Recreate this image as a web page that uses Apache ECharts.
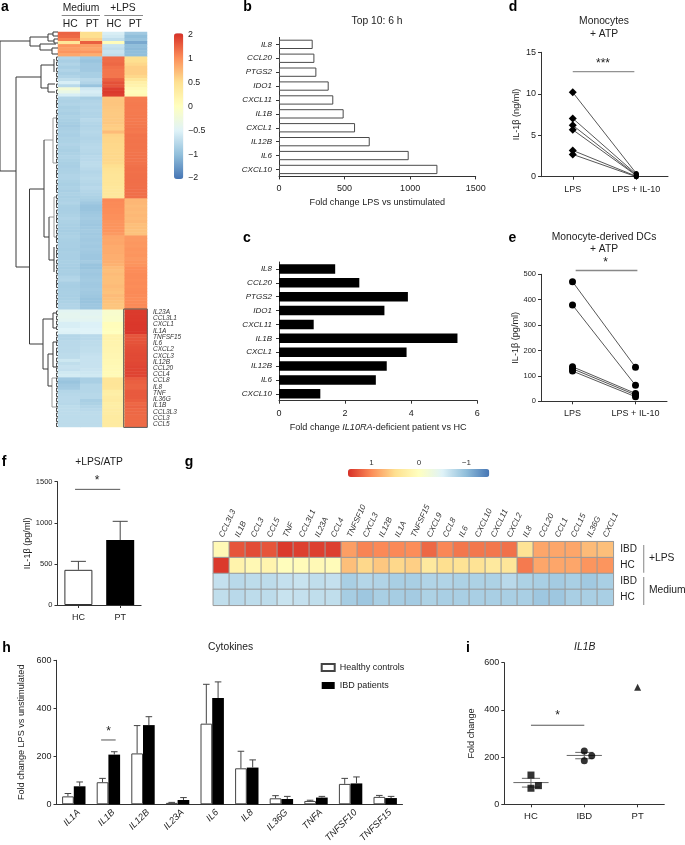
<!DOCTYPE html>
<html><head><meta charset="utf-8">
<style>html,body{margin:0;padding:0;background:#fff}#c{width:685px;height:845px}</style>
<script src="https://cdn.jsdelivr.net/npm/echarts@6/dist/echarts.min.js"></script>
</head><body><div id="c"></div>
<script>
// ---------- panel a: clustered heat map (columns, rows top to bottom)
const heatColumnsA = ['Medium HC','Medium PT','+LPS HC','+LPS PT'];
const heatMediumHC = [1.45,1.4,1.15,.4,.95,.9,.95,.85,
 -.8,-.85,-.8,-.85,-.8,-.85,-.8,-.7,-.55,-.75,-.2,-.35,-.55,
 -.8,-.82,-.8,-.84,-.82,-.85,-.82,-.84,-.86,-.88,-.85,-.83,-.85,-.82,-.82,-.8,-.82,-.84,-.82,-.8,-.82,-.84,-.85,-.83,-.82,-.8,-.8,-.82,-.84,-.82,-.85,-.82,-.84,
 -.82,-.8,-.84,-.85,-.84,-.82,-.8,-.82,-.84,-.85,-.86,-.84,-.82,-.84,-.85,-.85,-.86,-.84,-.85,-.85,-.84,-.85,-.86,-.84,-.85,-.8,-.78,-.85,-.86,-.85,-.84,-.85,-.84,-.82,-.8,-.8,
 -.45,-.42,-.42,-.45,-.55,-.55,-.5,-.52,-.78,-.78,-.75,-.75,-.74,-.74,-.72,-.72,-.62,-.7,-.66,-.68,-.6,-.58,-.9,-.95,-.9,-.88,-.78,-.76,-.75,-.75,-.76,-.72,-.72,-.72,-.72,-.72,-.72,-.72];
const heatMediumPT = [.5,.5,.6,1.5,.9,.85,.95,.8,
 -.9,-.95,-.9,-.9,-.9,-.85,-.85,-.75,-.8,-.95,-.6,-.55,-.6,
 -.85,-.8,-.78,-.8,-.78,-.8,-.8,-.75,-.78,-.8,-.78,-.76,-.78,-.8,-.78,-.76,-.75,-.76,-.78,-.75,-.75,-.72,-.72,-.75,-.78,-.76,-.74,-.76,-.78,-.75,-.78,-.8,-.82,
 -.85,-.9,-.95,-.95,-.92,-.9,-.88,-.9,-.92,-.9,-.88,-.9,-.88,-.9,-.88,-.9,-.88,-.9,-.92,-.92,-.88,-.95,-.95,-.9,-.92,-.9,-.88,-.9,-.9,-.88,-.9,-.92,-.95,-.95,-.92,-.92,
 -.45,-.45,-.42,-.45,-.52,-.52,-.5,-.5,-.75,-.75,-.72,-.72,-.7,-.7,-.68,-.66,-.66,-.66,-.66,-.64,-.62,-.6,-.85,-.85,-.78,-.78,-.78,-.76,-.76,-.85,-.82,-.78,-.75,-.72,-.72,-.72,-.72,-.72];
const heatLpsHC = [-.55,-.6,-.7,.05,-.65,-.7,-.65,-.7,
 1.35,1.35,1.4,1.3,1.25,1.25,1.25,1.5,1.65,1.6,1.85,1.9,1.85,
 .65,.66,.66,.65,.64,.63,.64,.64,.65,.62,.6,.72,.58,.56,.56,.55,.55,.54,.55,.54,.55,.54,.5,.45,.44,.42,.42,.4,.4,.38,.38,.38,.38,
 1.05,1.02,1.02,1.0,1.0,.98,.98,.96,.96,.95,.95,.92,.85,.84,.85,.82,.82,.82,.8,.8,.8,.78,.72,.7,.72,.7,.7,.7,.72,.7,.68,.72,.7,.68,.66,.66,
 -.12,-.12,-.1,-.1,.04,.04,.02,0,.2,.2,.18,.18,.16,.16,.14,.14,.12,.12,.1,.1,.08,.08,.42,.42,.42,.4,.28,.26,.3,.32,.28,.28,.3,.3,.32,.32,.32,.32];
const heatLpsPT = [-.9,-1,-.95,-1.3,-1,-1.05,-1,-1,
 .5,.5,.55,.6,.6,.6,.55,.4,.25,.2,.1,.05,.1,
 1.18,1.18,1.2,1.2,1.19,1.2,1.22,1.2,1.22,1.23,1.25,1.22,1.28,1.26,1.28,1.27,1.28,1.26,1.27,1.28,1.27,1.28,1.3,1.32,1.3,1.32,1.32,1.33,1.32,1.33,1.33,1.32,1.33,
 .75,.75,.72,.74,.72,.74,.72,.74,.7,.7,.68,.68,.92,.92,.94,.93,.95,.94,.95,.93,.95,.96,1,1,1.02,1.02,1,1.02,1,1.02,1.03,1.02,1,1.02,1.03,1.03,
 1.88,1.88,1.9,1.9,1.92,1.92,1.92,1.92,1.6,1.6,1.62,1.65,1.68,1.7,1.72,1.72,1.72,1.75,1.78,1.78,1.78,1.78,1.55,1.5,1.45,1.45,1.55,1.55,1.55,1.5,1.4,1.45,1.4,1.4,1.38,1.38,1.38,1.38];
const heatGenesA = ['IL23A','CCL3L1','CXCL1','IL1A','TNFSF15','IL6','CXCL2','CXCL3','IL12B','CCL20','CCL4','CCL8','IL8','TNF','IL36G','IL1B','CCL3L3','CCL3','CCL5'];
const scaleTicksA = ['−2','−1','−0.5','0','0.5','1','2'];
const scaleValuesA = [-2,-1,-.5,0,.5,1,2];
const scaleValuesG = [-1.5,-1,-.5,0,.5,1,1.5];
const scaleTicksG = ['','1','','0','','−1',''];
const paletteRdYlBu = ['#4575b4','#91bfdb','#e0f3f8','#ffffbf','#fee090','#fc8d59','#d73027'];

// dendrogram of panel a: [height1, leafPos1, height2, leafPos2]
const dendroDark = [[58,9,58,139],[28,9,58,9],[42,139,58,139],[28,5,28,14],[10,5,28,5],[18,14,28,14],
 [10,2,10,9],[5,2,10,2],[4,9,10,9],[18,12,18,18],[2,12,18,12],[6,18,18,18],[6,16,6,22],[0,16,6,16],[0,22,6,22],[5,0,5,4],[0,0,5,0],[0,4,5,4],[4,7,4,11],[0,7,4,7],[0,11,4,11],
 [42,45,42,235],[17,45,42,45],[17,33,17,56],[4,33,17,33],[4,27,4,40],[10,56,17,56],[10,52,10,60],[3,52,10,52],[3,60,10,60],
 [28.5,235,42,235],[28.5,157,28.5,312],[14,157,28.5,157],[14,108,14,205],[9,205,14,205],[9,185,9,228],[4,228,9,228],[4,215,4,240],
 [15,312,28.5,312],[15,287,15,337],[5,287,15,287],[5,281,5,296],[2,281,5,281],[2,296,5,296],[10,337,15,337],[10,322,10,354],[5,322,10,322],[5,310,5,335],[1,310,5,310],[1,335,5,335],[6,354,10,354]];
const dendroGray = [[5,108,14,108],[5,86,5,131],[1,86,5,86],[1,131,5,131],[4,185,9,185],[4,165,4,205],[1,165,4,165],[1,205,4,205],[6,346,6,375],[1,346,6,346],[1,375,6,375]];
const dendroLeafPairs = [25,30,36,41,46,52,58,63,68,72,78,83,87,92,98,103,107,113,118,122,127,133,138,142,148,153,157,163,168,172,178,183,187,193,198,203,207,213,218,222,228,233,238,243,248,252,258,263,268,272,279,284,289,294,300,305,310,316,320,326,331,336,341,346,351,356,361,366,371,376,381,386,391];

// ---------- panels b, c
const topGenes = ['IL8','CCL20','PTGS2','IDO1','CXCL11','IL1B','CXCL1','IL12B','IL6','CXCL10'];
const foldLps = [257,270,285,379,414,493,580,692,989,1208];
const foldPatient = [1.70,2.43,3.90,3.19,1.05,5.40,3.86,3.26,2.93,1.25];

// ---------- panels d, e
const pairedCats = ['LPS','LPS + IL-10'];
const monoPairs = [[10.17,.4],[7.03,.3],[6.2,.2],[5.66,.15],[3.17,.05],[2.69,0]];
const dcPairs = [[471,134],[379,63],[136,31],[128,25],[119,18]];

// ---------- panel f
const fCats = ['HC','PT'];
const fMeans = [428,790];
const fErrTop = [531,1018];

// ---------- panel g
const gGenes = ['CCL3L3','IL1B','CCL3','CCL5','TNF','CCL3L1','IL23A','CCL4','TNFSF10','CXCL3','IL12B','IL1A','TNFSF15','CXCL9','CCL8','IL6','CXCL10','CXCL11','CXCL2','IL8','CCL20','CCL1','CCL15','IL36G','CXCL1'];
const gRows = ['IBD','HC','IBD','HC'];
const gIbdLps = [.1,1.3,1.35,1.3,1.45,1.42,1.42,1.42,.9,1.05,1.02,1.02,1,1.2,1.03,1.12,1.12,1.12,1.15,.45,.85,.85,.85,.72,.7];
const gHcLps = [1.45,.2,.12,.18,.03,.06,.1,.06,.7,.55,.65,.55,.6,.35,.5,.45,.45,.35,.4,1.1,.85,.85,.85,.95,.95];
const gIbdMed = [-.68,-.75,-.72,-.72,-.68,-.65,-.7,-.68,-.85,-.78,-.8,-.85,-.85,-.8,-.8,-.82,-.82,-.82,-.75,-.82,-.85,-.88,-.85,-.9,-.85];
const gHcMed = [-.7,-.75,-.72,-.72,-.65,-.68,-.7,-.7,-.87,-.92,-.85,-.87,-.88,-.82,-.85,-.85,-.85,-.85,-.85,-.85,-.92,-.92,-.85,-.85,-.85];

// ---------- panel h
const hGenes = ['IL1A','IL1B','IL12B','IL23A','IL6','IL8','IL36G','TNFA','TNFSF10','TNFSF15'];
const hHealthy = [33,92,212,6,336,150,25,14,85,31];
const hHealthyErr = [45,108,328,8,500,221,36,17,108,37];
const hIbd = [75,207,330,18,443,153,22,28,87,26];
const hIbdErr = [93,219,365,28,510,185,33,33,114,33];

// ---------- panel i
const iCats = ['HC','IBD','PT'];
const iHC = [[0,124],[.14,79],[0,68]];
const iIBD = [[1,226],[1.14,206],[1,185]];
const iPT = [[2,496]];
const iMean = [92,207];
const iSeLow = [73,193];
const iSeHigh = [110,220];

// ---------- builders
const FONT = '"Liberation Sans", Arial, sans-serif';
const TXT = '#222', LINE = '#333';
const grids = [], xAxes = [], yAxes = [], overlayX = [], series = [], graphics = [], visualMaps = [];

function lerpScale(v, breaks){
  for(let i=0;i<breaks.length-1;i++){
    if(v<=breaks[i+1]) return i-3+(v-breaks[i])/(breaks[i+1]-breaks[i]);
  }
  return 3;
}
function baseAxis(extra){
  const ax = {
    axisLine:{show:true,onZero:false,lineStyle:{color:LINE,width:1}},
    axisTick:{show:true,length:3,lineStyle:{color:LINE,width:1}},
    axisLabel:{fontSize:9,color:TXT,fontFamily:FONT,margin:5},
    splitLine:{show:false},
    nameTextStyle:{fontSize:9.1,color:TXT,fontFamily:FONT},
    nameLocation:'middle'
  };
  if(extra && extra.type==='value') ax.axisLabel.formatter=v=>String(v);
  for(const k in (extra||{})){
    if(['axisLine','axisTick','axisLabel','nameTextStyle'].includes(k)) ax[k]=Object.assign({},ax[k],extra[k]);
    else ax[k]=extra[k];
  }
  return ax;
}
function addGrid(rect,x,y){
  const i=grids.length;
  grids.push(Object.assign({containLabel:false,show:false},rect));
  xAxes.push(Object.assign({gridIndex:i},x));
  yAxes.push(Object.assign({gridIndex:i},y));
  return i;
}
const hidden = (o)=>Object.assign({show:false},o);
function addOverlayX(g,min,max){
  overlayX.push({gridIndex:g,type:'value',show:false,min,max});
  return 1000+overlayX.length-1;
}
function segSeries(xi,yi,segs,color,width,z){
  series.push({type:'custom',xAxisIndex:xi,yAxisIndex:yi,silent:true,z:z||5,clip:false,
    data:segs,
    renderItem:(p,api)=>{
      const s=segs[p.dataIndex];
      const a=api.coord([s[0],s[1]]),b=api.coord([s[2],s[3]]);
      return {type:'line',shape:{x1:a[0],y1:a[1],x2:b[0],y2:b[1]},style:{stroke:color,lineWidth:width||1,fill:null}};
    }});
}
const TITLE={font:'10.3px '+FONT};
function label(x,y,text,o){
  graphics.push({type:'text',x,y,silent:true,z:20,style:Object.assign({text,font:'8.5px '+FONT,fill:TXT,textAlign:'center',textVerticalAlign:'middle'},o||{})});
}
const star=(x,y,t)=>label(x,y,t||'*',{font:'12px '+FONT});
function rule(x1,y1,x2,y2,color,w){
  graphics.push({type:'line',silent:true,z:20,shape:{x1,y1,x2,y2},style:{stroke:color||'#666',lineWidth:w||1}});
}

// ---------- a
{
  const n=heatMediumHC.length;
  const rows=Array.from({length:n},(_,i)=>i);
  const g=addGrid({left:58,top:32,width:89,height:395},
    hidden({type:'category',data:heatColumnsA}),
    hidden({type:'category',data:rows,inverse:true}));
  const d=[];
  [heatMediumHC,heatMediumPT,heatLpsHC,heatLpsPT].forEach((col,c)=>col.forEach((v,r)=>d.push([c,r,lerpScale(v,scaleValuesA)])));
  series.push({type:'heatmap',xAxisIndex:g,yAxisIndex:g,data:d,silent:true,progressive:0,itemStyle:{borderWidth:0}});
  visualMaps.push({type:'continuous',seriesIndex:series.length-1,min:-3,max:3,orient:'vertical',itemWidth:9.3,itemHeight:145.7,left:174,top:33.3,padding:0,calculable:false,hoverLink:false,realtime:false,inRange:{color:paletteRdYlBu},textStyle:{fontSize:1}});
  // dendrogram
  const gd=addGrid({left:0,top:32,width:58,height:395},
    hidden({type:'value',min:0,max:58,inverse:true}),
    hidden({type:'value',min:0,max:395,inverse:true}));
  const leaf=[];
  dendroLeafPairs.forEach(p=>{leaf.push([1.5,p,1.5,p+3.5],[0,p,1.5,p],[0,p+3.5,1.5,p+3.5]);});
  segSeries(gd,gd,dendroGray,'#999',1);
  segSeries(gd,gd,dendroDark,'#3a3a3a',1);
  segSeries(gd,gd,leaf,'#222',.8);
  // gene labels
  addGrid({left:147,top:309,width:1,height:118.4},
    hidden({type:'value'}),
    baseAxis({type:'category',data:heatGenesA,inverse:true,position:'right',axisLine:{show:false},axisTick:{show:false},
      axisLabel:{fontSize:6.5,fontStyle:'italic',margin:5,interval:0,color:'#333'}}));
  // colour scale ticks
  addGrid({left:183,top:35,width:1,height:143},
    hidden({type:'value'}),
    baseAxis({type:'category',data:scaleTicksA,boundaryGap:false,position:'right',axisLine:{show:false},axisTick:{show:false},
      axisLabel:{fontSize:8.8,margin:4,interval:0}}));
  graphics.push({type:'rect',silent:true,z:20,shape:{x:123.7,y:309,width:23.6,height:118.4},style:{fill:null,stroke:'#555',lineWidth:1}});
  label(81,8,'Medium',TITLE); label(123,8,'+LPS',TITLE);
  rule(61.7,15.5,100,15.5,'#888'); rule(104.3,15.5,143,15.5,'#888');
  label(70.3,24.5,'HC',TITLE); label(92.3,24.5,'PT',TITLE);
  label(114,24.5,'HC',TITLE); label(135.3,24.5,'PT',TITLE);
}
// ---------- b
{
  const g=addGrid({left:279,top:37.4,width:196.7,height:139},
    baseAxis({type:'value',min:0,max:1500,interval:500,name:'Fold change LPS vs unstimulated',nameGap:22,axisLabel:{margin:8}}),
    baseAxis({type:'category',data:topGenes,inverse:true,axisTick:{alignWithLabel:true},axisLabel:{fontSize:8,fontStyle:'italic',margin:7}}));
  series.push({type:'bar',xAxisIndex:g,yAxisIndex:g,data:foldLps,barWidth:9.3,silent:true,itemStyle:{color:'#fff',borderColor:'#4a4a4a',borderWidth:1}});
  label(377,21.5,'Top 10: 6 h',TITLE);
}
// ---------- c
{
  const g=addGrid({left:279,top:262,width:198.3,height:138.7},
    baseAxis({type:'value',min:0,max:6,interval:2,name:'Fold change {i|IL10RA}-deficient patient vs HC',nameGap:22,axisLabel:{margin:8},
      nameTextStyle:{rich:{i:{fontStyle:'italic',fontSize:9.1,color:TXT,fontFamily:FONT}}}}),
    baseAxis({type:'category',data:topGenes,inverse:true,axisTick:{alignWithLabel:true},axisLabel:{fontSize:8,fontStyle:'italic',margin:7}}));
  series.push({type:'bar',xAxisIndex:g,yAxisIndex:g,data:foldPatient,barWidth:9.5,silent:true,itemStyle:{color:'#000'}});
}
// ---------- d
{
  const g=addGrid({left:541,top:52.3,width:127,height:124.4},
    baseAxis({type:'category',data:pairedCats,axisTick:{alignWithLabel:true},axisLabel:{margin:8}}),
    baseAxis({type:'value',min:0,max:15,interval:5,name:'IL-1β (ng/ml)',nameGap:20}));
  monoPairs.forEach(pr=>series.push({type:'line',xAxisIndex:g,yAxisIndex:g,data:pr,silent:true,
    symbol:(v,p)=>p.dataIndex===0?'diamond':'circle',symbolSize:(v,p)=>p.dataIndex===0?8:5,
    lineStyle:{color:'#444',width:.9},itemStyle:{color:'#000'}}));
  const ov=addOverlayX(g,-.5,1.5);
  segSeries(ov,g,[[0,12.66,.97,12.66]],'#777',1);
  star(603,64,'***'); label(604,21.5,'Monocytes',TITLE); label(604,34,'+ ATP',TITLE);
}
// ---------- e
{
  const g=addGrid({left:541,top:274.3,width:126,height:127},
    baseAxis({type:'category',data:pairedCats,axisTick:{alignWithLabel:true},axisLabel:{margin:8}}),
    baseAxis({type:'value',min:0,max:500,interval:100,name:'IL-1β (pg/ml)',nameGap:20,axisLabel:{fontSize:7.5}}));
  dcPairs.forEach(pr=>series.push({type:'line',xAxisIndex:g,yAxisIndex:g,data:pr,silent:true,
    symbol:'circle',symbolSize:7,lineStyle:{color:'#444',width:.9},itemStyle:{color:'#000'}}));
  const ov=addOverlayX(g,-.5,1.5);
  segSeries(ov,g,[[.05,515,1.03,515]],'#888',1.3);
  star(605.7,263); label(604,236.7,'Monocyte-derived DCs',TITLE); label(604,249,'+ ATP',TITLE);
}
// ---------- f
{
  const g=addGrid({left:57.5,top:481.7,width:83.6,height:123.3},
    baseAxis({type:'category',data:fCats,axisTick:{alignWithLabel:true},axisLabel:{margin:8}}),
    baseAxis({type:'value',min:0,max:1500,interval:500,name:'IL-1β (pg/ml)',nameGap:26,axisLabel:{fontSize:7.5}}));
  series.push({type:'bar',xAxisIndex:g,yAxisIndex:g,barWidth:28,silent:true,
    data:[{value:fMeans[0],itemStyle:{color:'#fff',borderColor:'#333',borderWidth:1}},{value:fMeans[1],itemStyle:{color:'#000'}}]});
  const ov=addOverlayX(g,-.5,1.5);
  const seg=[];
  fCats.forEach((c,i)=>{seg.push([i,fMeans[i],i,fErrTop[i]],[i-.18,fErrTop[i],i+.18,fErrTop[i]]);});
  segSeries(ov,g,seg,'#444',1);
  segSeries(ov,g,[[-.08,1407,1,1407]],'#555',1);
  star(97,481); label(99,462,'+LPS/ATP',TITLE);
}
// ---------- g
{
  const g=addGrid({left:213.3,top:541.7,width:400,height:63.6},
    baseAxis({type:'category',data:gGenes,position:'top',axisLine:{lineStyle:{color:'#666',width:1.5}},axisTick:{show:false},
      axisLabel:{fontSize:8,fontStyle:'italic',rotate:-65,margin:5,interval:0,color:'#333'}}),
    baseAxis({type:'category',data:[0,1,2,3],inverse:true,position:'right',axisLine:{show:false},axisTick:{show:false},
      axisLabel:{fontSize:10,margin:7,interval:0,formatter:(v,i)=>gRows[i]}}));
  const d=[];
  [gIbdLps,gHcLps,gIbdMed,gHcMed].forEach((row,r)=>row.forEach((v,c)=>d.push([c,r,lerpScale(v,scaleValuesG)])));
  series.push({type:'heatmap',xAxisIndex:g,yAxisIndex:g,data:d,silent:true,progressive:0,itemStyle:{borderColor:'#9a9a9a',borderWidth:1}});
  visualMaps.push({type:'continuous',seriesIndex:series.length-1,min:-3,max:3,orient:'horizontal',inverse:true,itemWidth:8,itemHeight:141.3,left:348,top:469,padding:0,calculable:false,hoverLink:false,realtime:false,inRange:{color:paletteRdYlBu},textStyle:{fontSize:1}});
  addGrid({left:347.75,top:469,width:142.5,height:1},
    baseAxis({type:'category',data:scaleTicksG,boundaryGap:false,position:'top',axisLine:{show:false},axisTick:{show:false},
      axisLabel:{fontSize:8,margin:2,interval:0,color:'#333'}}),
    hidden({type:'value'}));
  rule(643.7,545,643.7,572.7,'#999',1.2); rule(643.7,577,643.7,605,'#999',1.2);
  label(649,558,'+LPS',{font:'10.3px '+FONT,textAlign:'left'});
  label(649,590,'Medium',{font:'10.3px '+FONT,textAlign:'left'});
}
// ---------- h
{
  const g=addGrid({left:56.5,top:660.3,width:346,height:144},
    baseAxis({type:'category',data:hGenes,axisTick:{show:false},axisLabel:{show:false}}),
    baseAxis({type:'value',min:0,max:600,interval:200,name:'Fold change LPS vs unstimulated',nameGap:29}));
  addGrid({left:61.5,top:660.3,width:346,height:144},
    baseAxis({type:'category',data:hGenes,axisLine:{show:false},axisTick:{show:false},axisLabel:{fontSize:9.4,fontStyle:'italic',rotate:45,margin:7,interval:0}}),
    hidden({type:'value',min:0,max:600}));
  series.push({type:'bar',name:'Healthy controls',xAxisIndex:g,yAxisIndex:g,data:hHealthy,barWidth:11.7,barGap:0,silent:true,itemStyle:{color:'#fff',borderColor:'#444',borderWidth:1}});
  series.push({type:'bar',name:'IBD patients',xAxisIndex:g,yAxisIndex:g,data:hIbd,barWidth:11.7,barGap:0,silent:true,itemStyle:{color:'#000'}});
  const ov=addOverlayX(g,-.5,9.5);
  const seg=[];
  hGenes.forEach((c,i)=>{
    seg.push([i-.17,hHealthy[i],i-.17,hHealthyErr[i]],[i-.265,hHealthyErr[i],i-.075,hHealthyErr[i]]);
    seg.push([i+.17,hIbd[i],i+.17,hIbdErr[i]],[i+.075,hIbdErr[i],i+.265,hIbdErr[i]]);
  });
  segSeries(ov,g,seg,'#444',1);
  segSeries(ov,g,[[.79,268,1.21,268]],'#555',1);
  star(108.7,732); label(230.6,647,'Cytokines',TITLE);
}
// ---------- i
{
  const g=addGrid({left:504.3,top:662.7,width:160,height:141.6},
    baseAxis({type:'value',min:-.5,max:2.5,axisLabel:{fontSize:9.5,customValues:[0,1,2],formatter:v=>iCats[v],margin:7},axisTick:{customValues:[0,1,2]}}),
    baseAxis({type:'value',min:0,max:600,interval:200,name:'Fold change',nameGap:28}));
  const seg=[];
  iMean.forEach((m,i)=>{
    seg.push([i-.33,m,i+.33,m],[i-.17,iSeLow[i],i+.17,iSeLow[i]],[i-.17,iSeHigh[i],i+.17,iSeHigh[i]],[i,iSeLow[i],i,iSeHigh[i]]);
  });
  segSeries(g,g,seg,'#666',1);
  segSeries(g,g,[[0,335,1,335]],'#555',1);
  series.push({type:'scatter',xAxisIndex:g,yAxisIndex:g,data:iHC,symbol:'rect',symbolSize:7,silent:true,itemStyle:{color:'#000'},z:6});
  series.push({type:'scatter',xAxisIndex:g,yAxisIndex:g,data:iIBD,symbol:'circle',symbolSize:7,silent:true,itemStyle:{color:'#000'},z:6});
  series.push({type:'scatter',xAxisIndex:g,yAxisIndex:g,data:iPT,symbol:'triangle',symbolSize:7,silent:true,itemStyle:{color:'#000'},z:6});
  star(557.7,716);
  label(584.7,647,'IL1B',{font:'italic 10.3px '+FONT});
}
// panel letters
[['a',5,7],['b',247.5,7],['c',247,238],['d',513,7],['e',512.5,238],['f',4,462],['g',189,462],['h',6.5,648],['i',468,648]]
 .forEach(p=>label(p[1],p[2],p[0],{font:'bold 14px '+FONT,fill:'#000'}));

// overlay x axes follow the one-per-grid axes
series.forEach(s=>{ if(s.xAxisIndex>=1000) s.xAxisIndex=grids.length+s.xAxisIndex-1000; });
const allX=xAxes.concat(overlayX);

const chart=echarts.init(document.getElementById('c'),null,{width:685,height:845,renderer:'canvas'});
chart.setOption({
  animation:false,backgroundColor:'#fff',
  grid:grids,xAxis:allX,yAxis:yAxes,series,visualMap:visualMaps,graphic:graphics,
  legend:{data:['Healthy controls','IBD patients'],orient:'vertical',left:320.7,top:663,padding:0,icon:'rect',itemWidth:13,itemHeight:7,itemGap:9,selectedMode:false,
    textStyle:{fontSize:9,color:TXT,fontFamily:FONT}}
});
</script></body></html>
